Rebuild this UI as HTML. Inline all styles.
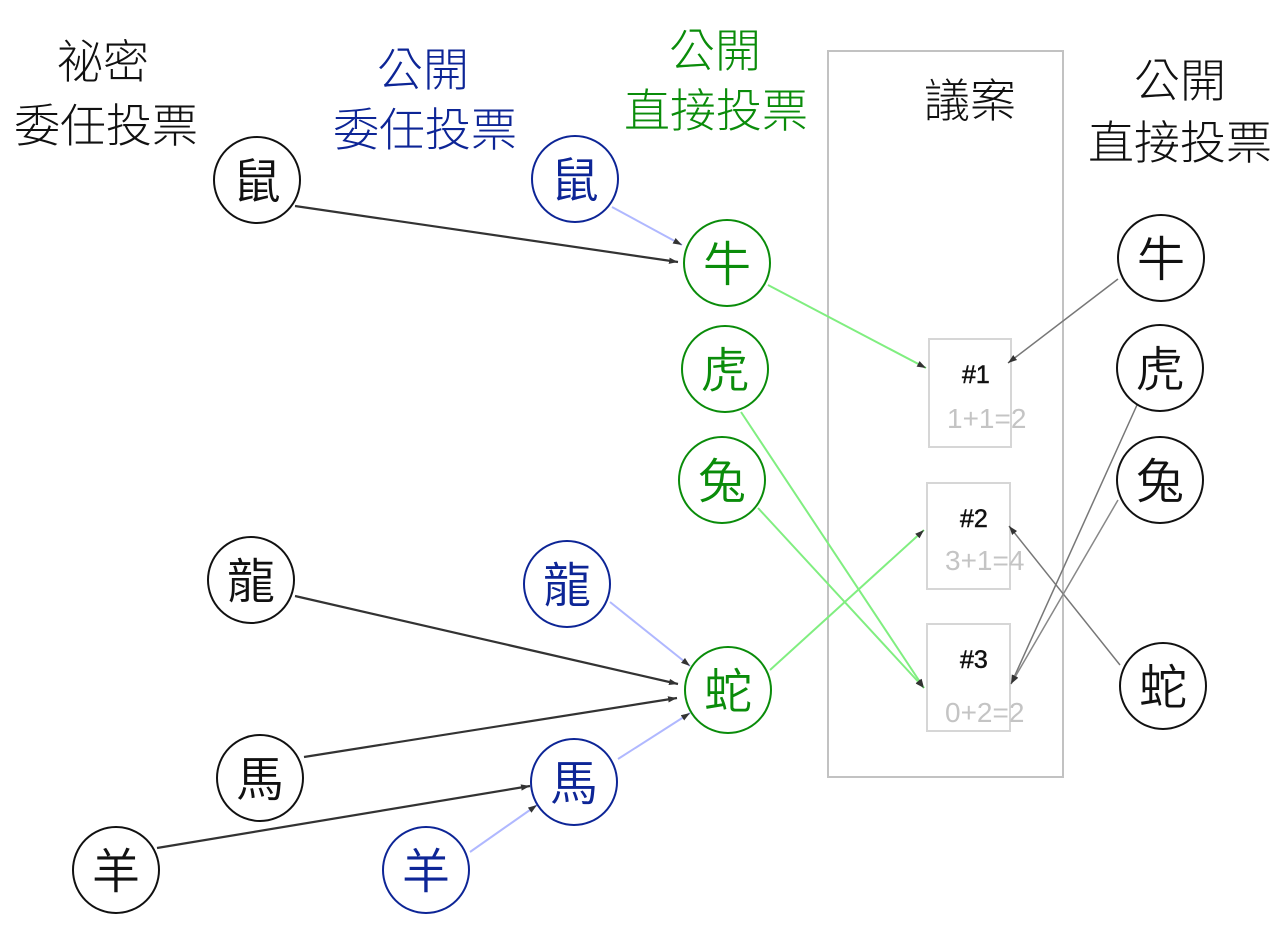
<!DOCTYPE html>
<html>
<head>
<meta charset="utf-8">
<style>
html,body{margin:0;padding:0;background:#fff;}
svg{display:block;}
.h{font-family:"Noto Sans CJK TC Light","Noto Sans CJK TC DemiLight","Noto Sans CJK TC","WenQuanYi Zen Hei",sans-serif;font-weight:300;font-size:46px;text-anchor:middle;}
.c{font-family:"Noto Sans CJK TC DemiLight","Noto Sans CJK TC","WenQuanYi Zen Hei",sans-serif;font-weight:350;font-size:48px;text-anchor:middle;}
.n{font-family:"Liberation Sans",Arial,sans-serif;font-size:25px;fill:#111;stroke:#111;stroke-width:0.5;}
.s{font-family:"Liberation Sans",Arial,sans-serif;font-size:28px;fill:#c4c4c4;}
</style>
</head>
<body>
<svg width="1287" height="952" viewBox="0 0 1287 952" xmlns="http://www.w3.org/2000/svg">
<defs>
<marker id="a" viewBox="0 0 10 10" refX="10" refY="5" markerWidth="9" markerHeight="9" markerUnits="userSpaceOnUse" orient="auto">
<path d="M0,1.5 L10,5 L0,8.5 Z" fill="#333"/>
</marker>
</defs>

<!-- big proposal box -->
<rect x="828" y="51" width="235" height="726" fill="none" stroke="#c2c2c2" stroke-width="2"/>
<!-- small boxes -->
<rect x="929" y="339" width="82" height="108" fill="none" stroke="#d6d6d6" stroke-width="2"/>
<rect x="927" y="483" width="83" height="106" fill="none" stroke="#d6d6d6" stroke-width="2"/>
<rect x="927" y="624" width="83" height="107" fill="none" stroke="#d6d6d6" stroke-width="2"/>

<!-- headings -->
<text class="h" x="103" y="78" fill="#111">祕密</text>
<text class="h" x="106" y="142" fill="#111">委任投票</text>
<text class="h" x="423" y="86" fill="#0d2596">公開</text>
<text class="h" x="425" y="146" fill="#0d2596">委任投票</text>
<text class="h" x="715" y="67" fill="#0a8c0a">公開</text>
<text class="h" x="716" y="127" fill="#0a8c0a">直接投票</text>
<text class="h" x="970" y="117" fill="#111">議案</text>
<text class="h" x="1180" y="97" fill="#111">公開</text>
<text class="h" x="1180" y="159" fill="#111">直接投票</text>

<!-- connectors -->
<g fill="none">
<line x1="295" y1="206" x2="678" y2="262" stroke="#333" stroke-width="2.2" marker-end="url(#a)"/>
<line x1="612" y1="207" x2="682" y2="245" stroke="#b0b8ff" stroke-width="2" marker-end="url(#a)"/>
<line x1="768" y1="285" x2="926" y2="368" stroke="#80ee80" stroke-width="2" marker-end="url(#a)"/>
<line x1="1118" y1="279" x2="1008" y2="363" stroke="#777" stroke-width="1.5" marker-end="url(#a)"/>
<line x1="741" y1="412" x2="924" y2="688" stroke="#80ee80" stroke-width="2" marker-end="url(#a)"/>
<line x1="758" y1="508" x2="924" y2="688" stroke="#80ee80" stroke-width="2" marker-end="url(#a)"/>
<line x1="770" y1="670" x2="924" y2="530" stroke="#80ee80" stroke-width="2" marker-end="url(#a)"/>
<line x1="1120" y1="665" x2="1009" y2="526" stroke="#777" stroke-width="1.5" marker-end="url(#a)"/>
<line x1="1137" y1="405" x2="1011" y2="684" stroke="#777" stroke-width="1.5" marker-end="url(#a)"/>
<line x1="1118" y1="500" x2="1011" y2="684" stroke="#888" stroke-width="1.5" marker-end="url(#a)"/>
<line x1="295" y1="596" x2="678" y2="684" stroke="#333" stroke-width="2.2" marker-end="url(#a)"/>
<line x1="610" y1="602" x2="690" y2="666" stroke="#b0b8ff" stroke-width="2" marker-end="url(#a)"/>
<line x1="304" y1="757" x2="677" y2="698" stroke="#333" stroke-width="2.2" marker-end="url(#a)"/>
<line x1="157" y1="848" x2="530" y2="786" stroke="#333" stroke-width="2.2" marker-end="url(#a)"/>
<line x1="618" y1="759" x2="690" y2="713" stroke="#b0b8ff" stroke-width="2" marker-end="url(#a)"/>
<line x1="470" y1="852" x2="537" y2="805" stroke="#b0b8ff" stroke-width="2" marker-end="url(#a)"/>
</g>

<!-- box labels -->
<text class="n" x="962" y="383">#1</text>
<text class="s" x="947" y="428">1+1=2</text>
<text class="n" x="960" y="527">#2</text>
<text class="s" x="945" y="570">3+1=4</text>
<text class="n" x="960" y="668">#3</text>
<text class="s" x="945" y="722">0+2=2</text>

<!-- black circles -->
<g stroke="#111" stroke-width="2" fill="#fff">
<circle cx="257" cy="180" r="43"/>
<circle cx="251" cy="580" r="43"/>
<circle cx="260" cy="778" r="43"/>
<circle cx="116" cy="870" r="43"/>
<circle cx="1161" cy="258" r="43"/>
<circle cx="1160" cy="368" r="43"/>
<circle cx="1160" cy="480" r="43"/>
<circle cx="1163" cy="686" r="43"/>
</g>
<g fill="#111">
<text class="c" x="257" y="198">鼠</text>
<text class="c" x="251" y="598">龍</text>
<text class="c" x="260" y="796">馬</text>
<text class="c" x="116" y="888">羊</text>
<text class="c" x="1161" y="276">牛</text>
<text class="c" x="1160" y="386">虎</text>
<text class="c" x="1160" y="498">兔</text>
<text class="c" x="1163" y="704">蛇</text>
</g>

<!-- blue circles -->
<g stroke="#0d2596" stroke-width="2" fill="#fff">
<circle cx="575" cy="179" r="43"/>
<circle cx="567" cy="584" r="43"/>
<circle cx="574" cy="782" r="43"/>
<circle cx="426" cy="870" r="43"/>
</g>
<g fill="#0d2596">
<text class="c" x="575" y="197">鼠</text>
<text class="c" x="567" y="602">龍</text>
<text class="c" x="574" y="800">馬</text>
<text class="c" x="426" y="888">羊</text>
</g>

<!-- green circles -->
<g stroke="#0a8c0a" stroke-width="2" fill="#fff">
<circle cx="727" cy="263" r="43"/>
<circle cx="725" cy="369" r="43"/>
<circle cx="722" cy="480" r="43"/>
<circle cx="728" cy="690" r="43"/>
</g>
<g fill="#0a8c0a">
<text class="c" x="727" y="281">牛</text>
<text class="c" x="725" y="387">虎</text>
<text class="c" x="722" y="498">兔</text>
<text class="c" x="728" y="708">蛇</text>
</g>
</svg>
</body>
</html>
